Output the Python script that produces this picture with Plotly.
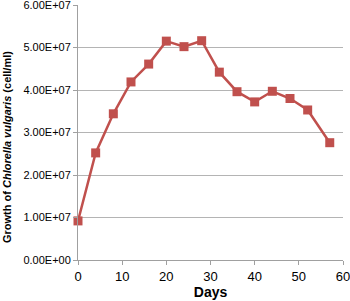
import plotly.graph_objects as go

days = [0, 4, 8, 12, 16, 20, 24, 28, 32, 36, 40, 44, 48, 52, 57]
growth = [9.2e6, 2.52e7, 3.44e7, 4.19e7, 4.61e7, 5.15e7, 5.02e7, 5.16e7,
          4.42e7, 3.96e7, 3.72e7, 3.97e7, 3.80e7, 3.53e7, 2.76e7]
y_ticks = [0, 1e7, 2e7, 3e7, 4e7, 5e7, 6e7]
y_labels = ["0.00E+00", "1.00E+07", "2.00E+07", "3.00E+07", "4.00E+07", "5.00E+07", "6.00E+07"]
x_ticks = [0, 10, 20, 30, 40, 50, 60]

fig = go.Figure()
fig.add_trace(go.Scatter(
    x=days, y=growth, mode="lines+markers",
    line=dict(color="#C0504D", width=2.5),
    marker=dict(symbol="square", size=9, color="#C0504D"),
    showlegend=False, cliponaxis=False,
))
fig.update_layout(
    width=350, height=301,
    margin=dict(l=78, r=7, t=5, b=41),
    paper_bgcolor="white", plot_bgcolor="white",
    font=dict(family="Liberation Sans, Arial, sans-serif", size=11, color="black"),
)
fig.update_xaxes(
    range=[0, 60], tickvals=x_ticks, showgrid=False, automargin=False,
    showline=True, linecolor="#a0a0a0", linewidth=1,
    ticks="outside", ticklen=4, tickcolor="#a0a0a0",
    tickfont=dict(size=13), zeroline=False, ticklabeloverflow="allow",
    title=dict(text="<b>Days</b>", font=dict(size=14), standoff=2),
)
fig.update_yaxes(
    range=[0, 6e7], tickvals=y_ticks, ticktext=y_labels, automargin=False,
    showgrid=True, gridcolor="#b4b4b4", gridwidth=1,
    showline=True, linecolor="#a0a0a0", linewidth=1,
    ticks="outside", ticklen=4, tickcolor="#a0a0a0",
    tickfont=dict(size=11), zeroline=False, ticklabeloverflow="allow",
)
fig.add_annotation(
    text="<b>Growth of <i>Chlorella vulgaris</i> (cell/ml)</b>",
    xref="paper", yref="paper", x=-0.268, y=0.443,
    textangle=-90, showarrow=False, font=dict(size=11),
    xanchor="center", yanchor="middle",
)
fig.write_html(
    "out.html",
    config={"displayModeBar": False},
    post_script="document.body.style.margin='0';document.body.style.overflow='hidden';",
)
